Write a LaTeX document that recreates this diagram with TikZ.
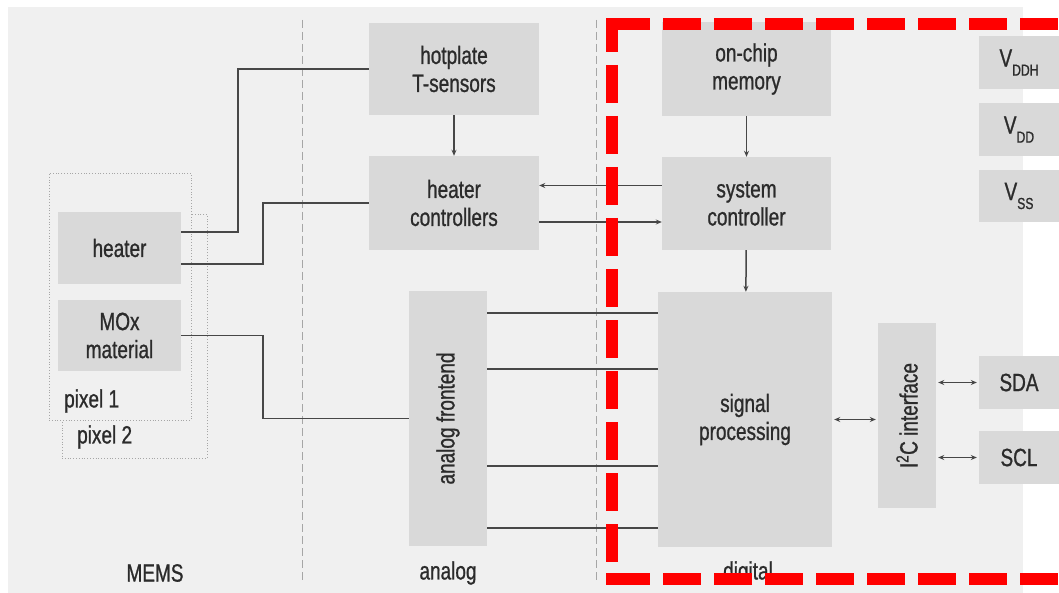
\documentclass[tikz,border=0pt]{standalone}
\usepackage{fontspec}
\setmainfont{Liberation Sans}[FakeStretch=0.76, FakeBold=0.9]
\usetikzlibrary{positioning, arrows.meta, calc}

\definecolor{panelgray}{HTML}{F0F0F0}
\definecolor{boxgray}{HTML}{D9D9D9}
\definecolor{txtgray}{HTML}{2B2B2B}
\definecolor{wiregray}{HTML}{474747}
\definecolor{sepgray}{HTML}{A6A6A6}

\newcommand{\vsub}[1]{V\raisebox{-9pt}{\fontsize{16}{16}\selectfont #1}}

\begin{document}
\begin{tikzpicture}[x=1pt, y=-1pt,
    blk/.style={rectangle, fill=boxgray, text=txtgray, align=center, inner sep=0pt, font=\fontsize{25}{28}\selectfont},
    lbl/.style={text=txtgray, inner sep=0pt, font=\fontsize{25}{28}\selectfont},
    wire/.style={draw=wiregray, line width=1.5pt},
    arr/.style={wire, -{Stealth[length=6pt, width=5pt]}},
    biarr/.style={wire, {Stealth[length=6pt, width=5pt]}-{Stealth[length=6pt, width=5pt]}, shorten <=2pt, shorten >=2pt},
    sep/.style={draw=sepgray, line width=1pt, dash pattern=on 8pt off 4pt},
    pix/.style={rectangle, draw=sepgray, line width=0.8pt, dotted, inner sep=0pt},
    redline/.style={draw=red, line width=12pt, dash pattern=on 38pt off 13pt}]

        \clip (0,0) rectangle (1059,593);
        \fill[white] (0,0) rectangle (1059,593);
        \fill[panelgray] (8,7) rectangle (1023,593);

        % column separators
        \draw[sep] (302,20) -- (302,582);
        \draw[sep] (596,20) -- (596,582);

        % MEMS pixels
        \node[pix, minimum width=145pt, minimum height=244pt] (pixb) at (134.5,336) {};
        \node[pix, fill=panelgray, minimum width=142pt, minimum height=247pt] (pixa) at (120,296.5) {};
        \node[lbl, anchor=west] (pixatxt) at (64,401) {pixel 1};
        \node[lbl, anchor=west] (pixbtxt) at (77,437) {pixel 2};

        \node[blk, minimum width=123pt, minimum height=72pt] (heater) at (119.5,248) {heater};
        \node[blk, minimum width=123pt, minimum height=71pt] (mox) at (119.5,335.5) {MOx\\material};

        % analog
        \node[blk, minimum width=170pt, minimum height=92pt] (hotplate) at (454,69) {hotplate\\T-sensors};
        \node[blk, minimum width=170pt, minimum height=94pt] (heatctl) at (454,203) {heater\\controllers};
        \node[blk, minimum width=78pt, minimum height=255pt] (afe) at (448,418.5) {\rotatebox{90}{analog frontend}};

        % digital
        \node[blk, minimum width=169pt, minimum height=94pt] (mem) at (746.5,69) {on-chip\\memory};
        \node[blk, minimum width=169pt, minimum height=93pt] (sysctl) at (746.5,203.5) {system\\controller};
        \node[blk, minimum width=174pt, minimum height=255pt] (sigproc) at (745,419.5) {signal\\processing};
        \node[blk, minimum width=58pt, minimum height=185pt] (iic) at (907,415.5) {\rotatebox{90}{I\textsuperscript{2}C interface}};

        % pins
        \node[blk, minimum width=80pt, minimum height=53pt] (vddh) at (1019,62.5) {\vsub{DDH}};
        \node[blk, minimum width=80pt, minimum height=53pt] (vdd) at (1019,129.5) {\vsub{DD}};
        \node[blk, minimum width=80pt, minimum height=52pt] (vss) at (1019,196) {\vsub{SS}};
        \node[blk, minimum width=80pt, minimum height=53pt] (sda) at (1019,382.5) {SDA};
        \node[blk, minimum width=80pt, minimum height=53pt] (scl) at (1019,457.5) {SCL};

        % column labels
        \node[lbl] (memslbl) at (155,573) {MEMS};
        \node[lbl] (analoglbl) at (448,573) {analog};
        \node[lbl] (digitallbl) at (748,573) {digital};

        % wiring MEMS -> analog
        \coordinate (busa) at (238,0);
        \coordinate (busb) at (263,0);
        \path ([yshift=16pt]heater.east) coordinate (ha)
              ([yshift=-16pt]heater.east) coordinate (hb);
        \draw[wire] (ha) -- (ha -| busa) |- (hotplate.west);
        \draw[wire] (hb) -- (hb -| busb) |- (heatctl.west);
        \draw[wire] (mox.east) -- (mox.east -| busb) |- (afe.west);

        \draw[arr] (hotplate) -- (heatctl);
        \draw[arr] (mem) -- (sysctl);
        \draw[arr] (sysctl) -- (sigproc);

        \path ([yshift=18pt]sysctl.west) coordinate (sa)
              ([yshift=-19pt]heatctl.east) coordinate (hc);
        \draw[arr] (sa) -- (sa -| heatctl.east);
        \draw[arr] (hc) -- (hc -| sysctl.west);

        \foreach \dy/\nm in {105.5/a, 49.5/b, -47.5/c, -109.5/d} {
            \path ([yshift=\dy pt]afe.east) coordinate (af\nm);
            \draw[wire] (af\nm) -- (af\nm -| sigproc.west);
        }

        \draw[biarr] (sigproc) -- (iic.west |- sigproc);
        \draw[biarr] (iic.east |- sda) -- (sda);
        \draw[biarr] (iic.east |- scl) -- (scl);

        % red frame
        \draw[redline] (612,24) -- (1070,24);
        \draw[redline, dash phase=10pt] (612,24) -- (612,579);
        \draw[redline] (612,579) -- (1070,579);
        \fill[red] (606,18) rectangle (618,30);
        \fill[red] (606,573) rectangle (618,585);
\end{tikzpicture}
\end{document}
